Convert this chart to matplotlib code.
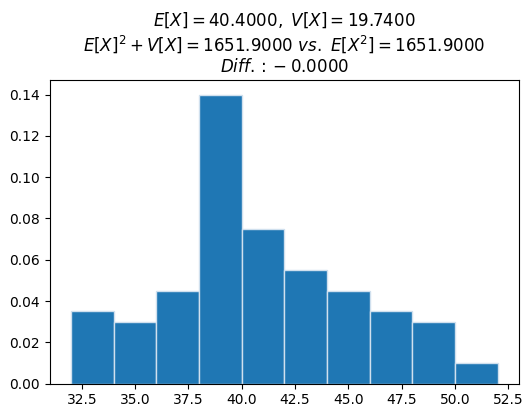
import matplotlib
matplotlib.use("Agg")
import matplotlib.pyplot as plt

bin_edges = [32, 34, 36, 38, 40, 42, 44, 46, 48, 50, 52]
densities = [0.035, 0.030, 0.045, 0.140, 0.075, 0.055, 0.045, 0.035, 0.030, 0.010]
title_lines = [
    r"$E[X] = 40.4000,\ V[X] = 19.7400$",
    r"$E[X]^2 + V[X] = 1651.9000\ vs.\ E[X^2] = 1651.9000$",
    r"$Diff.: {} -0.0000$",
]

centers = [(a + b) / 2 for a, b in zip(bin_edges[:-1], bin_edges[1:])]

fig = plt.figure(figsize=(5.3, 4.17), dpi=100)
ax = fig.add_axes([0.094, 0.08, 0.885, 0.728])
ax.hist(centers, bins=bin_edges, weights=densities, color="#1f77b4",
        edgecolor="#d0e0ee", linewidth=1.0)
ax.set_title("\n".join(title_lines), fontsize=12)
fig.savefig("out.png", dpi=100)
